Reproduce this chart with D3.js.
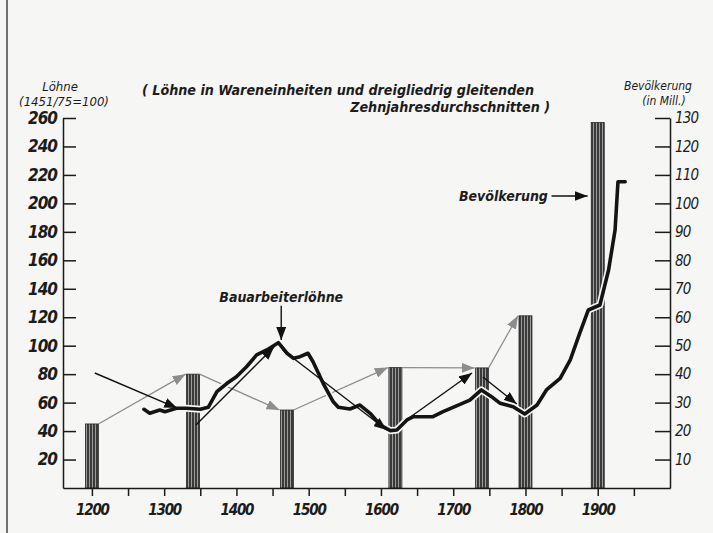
<!DOCTYPE html>
<html>
<head>
<meta charset="utf-8">
<script src="https://cdn.jsdelivr.net/npm/d3@7"></script>
<style>
    body { margin: 0; background: #f6f6f4; }
    svg { display: block; }
    text { font-family: "DejaVu Sans Condensed", "DejaVu Sans", sans-serif; font-style: italic; fill: #1c1c1c; }
</style>
</head>
<body>
<svg id="chart" width="713" height="533"></svg>
<script>
// Population bars (right axis, Mill.)
const barYears = [1200, 1340, 1470, 1620, 1740, 1800, 1900];
const barPop = [22.5, 40, 27.4, 42.3, 42.2, 60.5, 128.4];

// Construction workers' wages (left axis, 1451/75 = 100)
const wageYears = [1272, 1280, 1294, 1301, 1317, 1331, 1350, 1361, 1373, 1387, 1400, 1414, 1428, 1442, 1458,
    1470, 1479, 1488, 1499, 1506, 1520, 1534, 1541, 1557, 1571, 1585, 1599, 1613, 1622, 1636, 1645, 1672,
    1686, 1707, 1723, 1739, 1753, 1765, 1783, 1799, 1816, 1829, 1848, 1862, 1875, 1887, 1903, 1915, 1924,
    1928, 1938];
const wageValues = [55.3, 52.5, 54.8, 53.6, 56.0, 56.0, 55.3, 56.7, 67.7, 73.6, 78.2, 85.2, 93.5, 97.0, 102.1,
    94.7, 91.1, 92.3, 94.7, 88.7, 73.6, 60.6, 56.7, 55.5, 58.3, 52.5, 44.3, 40.3, 40.8, 47.8, 50.1, 50.1,
    53.6, 58.3, 61.8, 68.9, 64.2, 59.5, 57.1, 52.0, 58.3, 68.9, 77.1, 90.0, 108.7, 125.1, 128.6, 153.2, 181.3,
    215.2, 215.2];

// Tick labels
const leftTicks = [20, 40, 60, 80, 100, 120, 140, 160, 180, 200, 220, 240, 260];
const rightTicks = [10, 20, 30, 40, 50, 60, 70, 80, 90, 100, 110, 120, 130];
const yearTicks = [1200, 1250, 1300, 1350, 1400, 1450, 1500, 1550, 1600, 1650, 1700, 1750, 1800, 1850, 1900, 1950];
const yearLabels = [1200, 1300, 1400, 1500, 1600, 1700, 1800, 1900];

// Gray arrows between bar tops (bar index pairs)
const barLinks = [[0, 1], [1, 2], [2, 3], [3, 4], [4, 5]];
// Black arrows: [fromYear, fromWage, toYear, toWage]
const trendArrows = [
    [1204, 80.8, 1318, 56.2],
    [1344, 44.3, 1452, 99.1],
    [1464, 97.0, 1608, 40.8],
    [1633, 47.1, 1726, 80.8],
    [1741, 78.0, 1788, 59.0]
];

const svg = d3.select('#chart');

const x = d3.scaleLinear().domain([1160, 2000]).range([63, 670]);
const yL = d3.scaleLinear().domain([0, 260]).range([488, 118]);
const yR = d3.scaleLinear().domain([0, 130]).range([488, 118]);
const barW = 13;

// page border on the left of the scan
svg.append('line').attr('x1', 7).attr('x2', 7).attr('y1', 0).attr('y2', 533)
    .attr('stroke', '#444').attr('stroke-width', 1.5);

const defs = svg.append('defs');
const pat = defs.append('pattern').attr('id', 'stripes')
    .attr('patternUnits', 'userSpaceOnUse').attr('width', 3).attr('height', 6);
pat.append('rect').attr('width', 3).attr('height', 6).attr('fill', '#3a3a3a');
pat.append('rect').attr('x', 2).attr('width', 1).attr('height', 6).attr('fill', '#9c9c9c');

function marker(id, color, len, wid) {
    defs.append('marker').attr('id', id)
        .attr('markerUnits', 'userSpaceOnUse')
        .attr('viewBox', `0 0 ${len} ${wid}`)
        .attr('refX', len).attr('refY', wid / 2)
        .attr('markerWidth', len).attr('markerHeight', wid)
        .attr('orient', 'auto')
        .append('path').attr('d', `M0,0L${len},${wid / 2}L0,${wid}Z`).attr('fill', color);
}
marker('headBlack', '#111', 13, 10);
marker('headGray', '#8d8d8d', 13, 10);

// Bars
svg.append('g').selectAll('rect')
    .data(barYears)
    .join('rect')
    .attr('x', (d) => x(d) - barW / 2)
    .attr('y', (d, i) => yR(barPop[i]))
    .attr('width', barW)
    .attr('height', (d, i) => yR(0) - yR(barPop[i]))
    .attr('fill', 'url(#stripes)')
    .attr('stroke', '#2a2a2a')
    .attr('stroke-width', 0.8);

// Gray arrows from bar to bar
svg.append('g').selectAll('line')
    .data(barLinks)
    .join('line')
    .attr('x1', (d) => x(barYears[d[0]]) + barW / 2)
    .attr('y1', (d) => yR(barPop[d[0]]))
    .attr('x2', (d) => x(barYears[d[1]]) - barW / 2 - 1)
    .attr('y2', (d) => yR(barPop[d[1]]))
    .attr('stroke', '#8d8d8d')
    .attr('stroke-width', 1.3)
    .attr('marker-end', 'url(#headGray)');

// Wage line (white halo + black)
const line = d3.line()
    .x((d) => x(d))
    .y((d, i) => yL(wageValues[i]))
    .curve(d3.curveLinear);

svg.append('path').datum(wageYears)
    .attr('d', line).attr('fill', 'none')
    .attr('stroke', '#f6f6f4').attr('stroke-width', 7).attr('stroke-linejoin', 'round');
svg.append('path').datum(wageYears)
    .attr('d', line).attr('fill', 'none')
    .attr('stroke', '#141414').attr('stroke-width', 3.6)
    .attr('stroke-linejoin', 'round').attr('stroke-linecap', 'round');

// Black trend arrows
svg.append('g').selectAll('line')
    .data(trendArrows)
    .join('line')
    .attr('x1', (d) => x(d[0])).attr('y1', (d) => yL(d[1]))
    .attr('x2', (d) => x(d[2])).attr('y2', (d) => yL(d[3]))
    .attr('stroke', '#111').attr('stroke-width', 1.4)
    .attr('marker-end', 'url(#headBlack)');

// Axes
const xAxis = d3.axisBottom(x).tickValues(yearTicks).tickSize(8).tickSizeOuter(0)
    .tickFormat((d) => yearLabels.includes(d) ? d : '');
const gx = svg.append('g').attr('transform', `translate(0,${yL(0)})`).call(xAxis);
gx.selectAll('text').attr('font-size', 15).attr('font-weight', 'bold').attr('dy', '1.05em')
    .attr('letter-spacing', -1.2);

const gl = svg.append('g').attr('transform', `translate(${x.range()[0]},0)`)
    .call(d3.axisLeft(yL).tickValues(leftTicks).tickSize(-13).tickSizeOuter(0).tickPadding(6));
gl.selectAll('text').attr('font-size', 17).attr('font-weight', 'bold').attr('letter-spacing', -1);

const gr = svg.append('g').attr('transform', `translate(${x.range()[1]},0)`)
    .call(d3.axisRight(yR).tickValues(rightTicks).tickSize(-15).tickSizeOuter(0).tickPadding(5));
gr.selectAll('text').attr('font-size', 15).attr('letter-spacing', -0.8);

svg.selectAll('.domain, .tick line').attr('stroke', '#1a1a1a').attr('stroke-width', 1.5);
svg.selectAll('.tick text').style('fill', '#1c1c1c').attr('font-family', null);

// Axis titles
svg.append('text').attr('x', 60).attr('y', 91).attr('text-anchor', 'middle')
    .attr('font-size', 13).text('Löhne');
svg.append('text').attr('x', 64).attr('y', 106).attr('text-anchor', 'middle')
    .attr('font-size', 13).text('(1451/75=100)');
svg.append('text').attr('x', 658).attr('y', 90).attr('text-anchor', 'middle')
    .attr('font-size', 12).text('Bevölkerung');
svg.append('text').attr('x', 664).attr('y', 105).attr('text-anchor', 'middle')
    .attr('font-size', 12).text('(in Mill.)');

// Chart title
svg.append('text').attr('x', 142).attr('y', 95).attr('font-size', 14.2).attr('font-weight', 'bold')
    .text('( Löhne in Wareneinheiten und dreigliedrig gleitenden');
svg.append('text').attr('x', 550).attr('y', 112).attr('text-anchor', 'end')
    .attr('font-size', 14.2).attr('font-weight', 'bold')
    .text('Zehnjahresdurchschnitten )');

// Series labels with pointers
svg.append('text').attr('x', x(1462)).attr('y', yL(131)).attr('text-anchor', 'middle')
    .attr('font-size', 14).attr('font-weight', 'bold').text('Bauarbeiterlöhne');
svg.append('line').attr('x1', x(1462)).attr('y1', yL(128)).attr('x2', x(1462)).attr('y2', yL(104))
    .attr('stroke', '#111').attr('stroke-width', 1.4).attr('marker-end', 'url(#headBlack)');

svg.append('text').attr('x', x(1831)).attr('y', yR(100.8)).attr('text-anchor', 'end')
    .attr('font-size', 14).attr('font-weight', 'bold').text('Bevölkerung');
svg.append('line').attr('x1', x(1836)).attr('y1', yR(102.6)).attr('x2', x(1886)).attr('y2', yR(102.6))
    .attr('stroke', '#111').attr('stroke-width', 1.4).attr('marker-end', 'url(#headBlack)');
</script>
</body>
</html>
